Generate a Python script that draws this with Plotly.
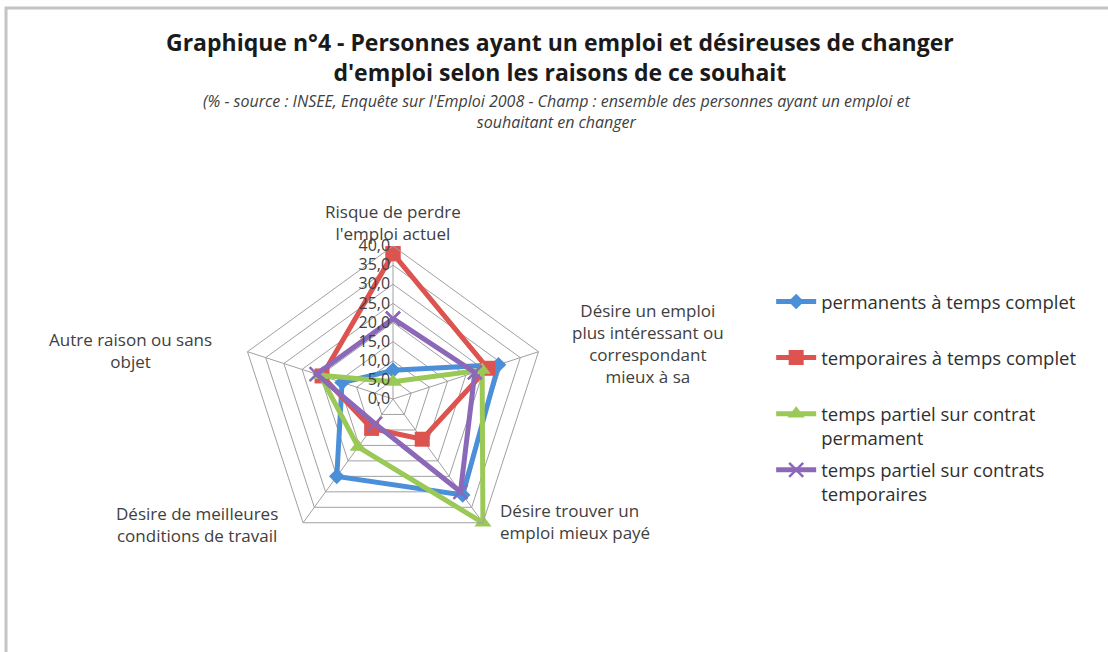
import plotly.graph_objects as go

W, H = 1108, 652

categories = [
    "Risque de perdre l'emploi actuel",
    "Désire un emploi plus intéressant ou correspondant mieux à sa qualification",
    "Désire trouver un emploi mieux payé",
    "Désire de meilleures conditions de travail",
    "Autre raison ou sans objet",
]
category_labels = [
    "Risque de perdre<br>l'emploi actuel",
    "Désire un emploi<br>plus intéressant ou<br>correspondant<br>mieux à sa",
    "Désire trouver un<br>emploi mieux payé",
    "Désire de meilleures<br>conditions de travail",
    "Autre raison ou sans<br>objet",
]

series_names = [
    "permanents à temps complet",
    "temporaires à temps complet",
    "temps partiel sur contrat<br>permament",
    "temps partiel sur contrats<br>temporaires",
]
permanents_complet = [7.5, 29.0, 31.0, 25.0, 14.0]
temporaires_complet = [38.0, 26.0, 13.0, 9.5, 19.5]
partiel_permanent = [4.5, 24.5, 40.0, 15.5, 20.0]
partiel_temporaires = [21.0, 22.5, 30.0, 8.0, 21.0]

radial_ticks = [0, 5, 10, 15, 20, 25, 30, 35, 40]

colors = ["#4A8FD8", "#DC5350", "#9BC957", "#8B68B8"]
symbols = ["diamond", "square", "triangle-up", "x-thin"]
sizes = [12, 15, 15, 14]

fig = go.Figure()
all_values = [permanents_complet, temporaires_complet, partiel_permanent, partiel_temporaires]
for i, (name, vals) in enumerate(zip(series_names, all_values)):
    label = name if "<br>" in name else name + "<br>&nbsp;"
    fig.add_trace(go.Scatterpolar(
        r=vals + [vals[0]],
        theta=categories + [categories[0]],
        mode="lines+markers",
        name=label,
        legendgroup=str(i),
        line=dict(color=colors[i], width=5),
        marker=dict(color=colors[i], symbol=symbols[i], size=sizes[i],
                    line=dict(color=colors[i], width=2.5 if symbols[i] == "x-thin" else 0)),
    ))

cx, cy, R = 393, 399, 153
fig.update_layout(
    width=W, height=H,
    margin=dict(l=0, r=0, t=0, b=0),
    paper_bgcolor="white",
    separators=", ",
    font=dict(family="Open Sans, sans-serif", color="#404040"),
    polar=dict(
        domain=dict(x=[(cx - R) / W, (cx + R) / W], y=[1 - (cy + R) / H, 1 - (cy - R) / H]),
        bgcolor="white",
        gridshape="linear",
        angularaxis=dict(
            direction="clockwise", rotation=90,
            showticklabels=False, ticks="",
            showline=True, linecolor="#a0a0a0", linewidth=1,
            gridcolor="#a0a0a0", gridwidth=1,
        ),
        radialaxis=dict(
            range=[0, 40], tickvals=radial_ticks, tickformat=".1f",
            angle=90, tickangle=90, side="counterclockwise",
            showline=False, ticks="",
            gridcolor="#a0a0a0", gridwidth=1,
            tickfont=dict(size=16, color="#404040"),
        ),
    ),
    legend=dict(
        x=0.696, y=0.566, xanchor="left", yanchor="top",
        font=dict(size=18.5, color="#303030"),
        valign="top", tracegroupgap=5, itemwidth=40,
        bgcolor="rgba(0,0,0,0)",
    ),
    showlegend=True,
)

# Title and subtitle
fig.add_annotation(x=560 / W, y=1 - 57 / H, xref="paper", yref="paper",
                   xanchor="center", yanchor="middle",
                   text="<b>Graphique n°4 - Personnes ayant un emploi et désireuses de changer<br>d'emploi selon les raisons de ce souhait</b>",
                   showarrow=False, font=dict(size=23, color="#1a1a1a"), align="center")
fig.add_annotation(x=556 / W, y=1 - 111 / H, xref="paper", yref="paper",
                   xanchor="center", yanchor="middle",
                   text="<i>(% - source : INSEE, Enquête sur l'Emploi 2008 - Champ : ensemble des personnes ayant un emploi et<br>souhaitant en changer</i>",
                   showarrow=False, font=dict(size=16, color="#404040"), align="center")

# Category labels
label_pos = [
    (393, 222, "center", "center"),
    (648, 344, "center", "center"),
    (498, 521, "left", "left"),
    (197, 524, "center", "center"),
    (130, 350, "center", "center"),
]
for text, (x, y, xa, al) in zip(category_labels, label_pos):
    fig.add_annotation(x=x / W, y=1 - y / H, xref="paper", yref="paper", text=text,
                       showarrow=False, xanchor=xa, yanchor="middle", align=al,
                       font=dict(size=17, color="#404040"))

# Outer frame
fig.add_shape(type="rect", xref="paper", yref="paper",
              x0=6 / W, x1=1.02, y0=-0.02, y1=1 - 8 / H,
              line=dict(color="#c4c4c4", width=3), fillcolor="rgba(0,0,0,0)", layer="below")

fig.write_html("out.html", config={"displayModeBar": False},
               post_script="document.body.style.margin='0';")
